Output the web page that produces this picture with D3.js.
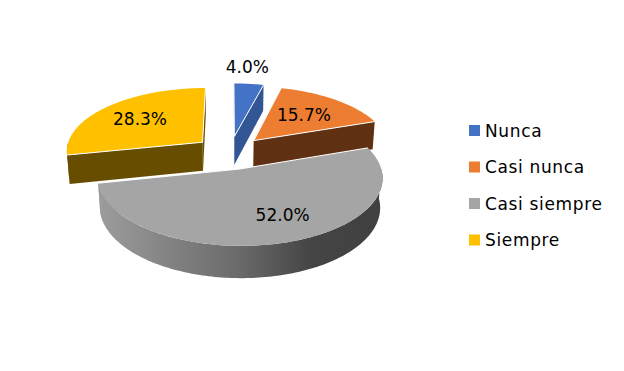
<!DOCTYPE html>
<html>
<head>
<meta charset="utf-8">
<script src="https://cdn.jsdelivr.net/npm/d3@7"></script>
<style>
  html, body { margin: 0; padding: 0; background: #fff; }
  text { font-family: "DejaVu Sans", sans-serif; fill: #000; }
</style>
</head>
<body>
<div id="chart"></div>
<script>
const categories = ["Nunca", "Casi nunca", "Casi siempre", "Siempre"];
const values = [4.0, 15.7, 52.0, 28.3];
const labels = ["4.0%", "15.7%", "52.0%", "28.3%"];
const topColors = ["#4472C4", "#ED7D31", "#A5A5A5", "#FFC000"];
const sideColors = ["#325594", "#5F3112", "url(#grayRim)", "#664D00"];

const width = 624, height = 371;
const centerX = 230, centerY = 152.5;
const radius = 137, explode = 36, thickness = 33;
const sinTilt = 0.461, cosTilt = 0.887, camera = 1000;

const svg = d3.select("#chart").append("svg")
    .attr("width", width)
    .attr("height", height)
    .style("display", "block");

const rimGradient = svg.append("defs").append("linearGradient")
    .attr("id", "grayRim")
    .attr("gradientUnits", "userSpaceOnUse")
    .attr("x1", 98).attr("x2", 381).attr("y1", 0).attr("y2", 0);
rimGradient.selectAll("stop")
    .data([[0, "#9c9c9c"], [0.5, "#6a6a6a"], [0.75, "#454545"], [1, "#404040"]])
    .enter().append("stop")
    .attr("offset", d => d[0])
    .attr("stop-color", d => d[1]);

const color = d3.scaleOrdinal().domain(categories).range(topColors);
const sideColor = d3.scaleOrdinal().domain(categories).range(sideColors);

const arcs = d3.pie().sort(null).value(d => d.value)(
    categories.map((name, i) => ({name, value: values[i], label: labels[i]}))
);

// a point on a slice: angle from 12 o'clock, distance from apex, depth below the top face
function project(slice, angle, r, h) {
    const mid = (slice.startAngle + slice.endAngle) / 2;
    const x = explode * Math.sin(mid) + r * Math.sin(angle);
    const z = explode * Math.cos(mid) + r * Math.cos(angle);
    const p = camera / (camera + z * cosTilt + h * sinTilt);
    return [centerX + x * p, centerY + (h * cosTilt - z * sinTilt) * p];
}

function rimPoints(slice, a0, a1, h) {
    const n = Math.max(2, Math.ceil((a1 - a0) / 0.02));
    return d3.range(n + 1).map(i => project(slice, a0 + (a1 - a0) * i / n, radius, h));
}

const polygon = d3.line().curve(d3.curveLinearClosed);
const polyline = d3.line();

function drawSlice(slice) {
    const g = svg.append("g");
    const name = slice.data.name;
    const side = sideColor(name);
    const flat = side.startsWith("url") ? color(name) : side;

    // cut faces first, the top face hides whichever ones look away from us
    [slice.startAngle, slice.endAngle].forEach(a => {
        g.append("path")
            .attr("fill", flat)
            .attr("d", polygon([
                project(slice, a, 0, 0),
                project(slice, a, radius, 0),
                project(slice, a, radius, thickness),
                project(slice, a, 0, thickness)
            ]));
    });

    // outer wall, only the part facing the viewer
    const from = Math.max(slice.startAngle, Math.PI / 2);
    const to = Math.min(slice.endAngle, Math.PI * 1.5);
    if (to > from) {
        g.append("path")
            .attr("fill", side)
            .attr("d", polygon(rimPoints(slice, from, to, 0)
                .concat(rimPoints(slice, from, to, thickness).reverse())));
    }

    const apex = project(slice, slice.startAngle, 0, 0);
    g.append("path")
        .attr("fill", color(name))
        .attr("d", polygon([apex].concat(rimPoints(slice, slice.startAngle, slice.endAngle, 0))));

    // thin light edge along the two straight sides
    g.append("path")
        .attr("fill", "none")
        .attr("stroke", "#fff")
        .attr("stroke-width", 1)
        .attr("d", polyline([
            project(slice, slice.startAngle, radius, 0),
            apex,
            project(slice, slice.endAngle, radius, 0)
        ]));
}

// back to front: Nunca, Siempre, Casi nunca, Casi siempre
[0, 3, 1, 2].forEach(i => drawSlice(arcs[i]));

// data labels, placed along each slice's mid angle
const labelRadius = [1.2, 0.62, 0.72, 0.62];
const labelNudge = [[-4, -8], [-2, 1], [12, -5], [-2, -1]];
arcs.forEach((slice, i) => {
    const mid = (slice.startAngle + slice.endAngle) / 2;
    const pos = project(slice, mid, radius * labelRadius[i], 0);
    svg.append("text")
        .attr("x", pos[0] + labelNudge[i][0])
        .attr("y", pos[1] + labelNudge[i][1])
        .attr("dy", "0.35em")
        .attr("text-anchor", "middle")
        .attr("font-size", 17)
        .text(slice.data.label);
});

// legend
const legendY = d3.scalePoint().domain(categories).range([130.5, 240]);
const legend = svg.append("g").selectAll("g")
    .data(categories)
    .enter().append("g")
    .attr("transform", d => "translate(469," + legendY(d) + ")");
legend.append("rect")
    .attr("y", -5.5)
    .attr("width", 11)
    .attr("height", 11)
    .attr("fill", d => color(d));
legend.append("text")
    .attr("x", 16)
    .attr("y", 0.5)
    .attr("dy", "0.35em")
    .attr("font-size", 17)
    .attr("letter-spacing", 0.65)
    .text(d => d);
</script>
</body>
</html>
